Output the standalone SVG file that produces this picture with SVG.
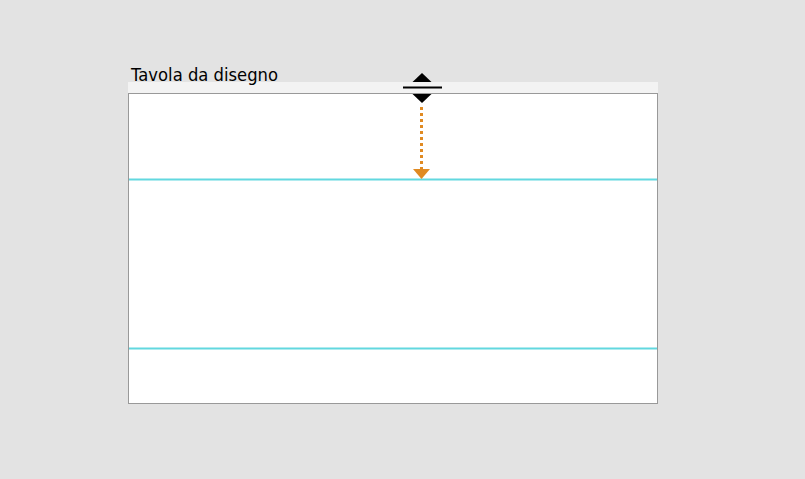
<svg xmlns="http://www.w3.org/2000/svg" width="805" height="479" viewBox="0 0 805 479">
<style>
.guide{stroke:#62d8df;stroke-width:2;fill:none}
.title{font-family:"DejaVu Sans","Liberation Sans",sans-serif;font-size:17px;fill:#000}
</style>
<rect width="805" height="479" fill="#e3e3e3"/>
<g id="board">
<rect x="128" y="82" width="530" height="12" fill="#f3f3f3"/>
<rect x="128.5" y="93.5" width="529" height="310" fill="#ffffff" stroke="#999999" stroke-width="1"/>
<text class="title" x="131" y="81" textLength="147" lengthAdjust="spacingAndGlyphs">Tavola da disegno</text>
</g>
<g id="guides">
<line class="guide" x1="129" y1="179.5" x2="657" y2="179.5"/>
<line class="guide" x1="129" y1="348.5" x2="657" y2="348.5"/>
</g>
<g id="handle">
<polygon points="422,73 412.5,82 431.5,82" fill="#000"/>
<line x1="403" y1="87.5" x2="442" y2="87.5" stroke="#000" stroke-width="2"/>
<polygon points="412.5,94 431.5,94 422,103" fill="#000"/>
</g>
<g id="connectors">
<line x1="421.5" y1="107" x2="421.5" y2="169" stroke="#e08a22" stroke-width="3" stroke-dasharray="3,3"/>
<polygon points="413,169 430,169 421.5,179" fill="#e08a22"/>
</g>
</svg>
